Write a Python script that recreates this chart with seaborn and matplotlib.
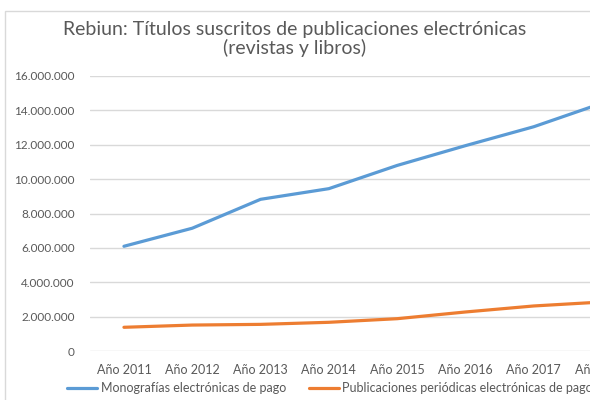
import numpy as np
import pandas as pd
import matplotlib.pyplot as plt
import seaborn as sns
from matplotlib.ticker import FuncFormatter
from matplotlib.patches import Rectangle

years = ["Año 2011", "Año 2012", "Año 2013", "Año 2014",
         "Año 2015", "Año 2016", "Año 2017", "Año 2018"]
monografias = [6100000, 7150000, 8830000, 9450000,
               10800000, 11950000, 13050000, 14420000]
periodicas = [1390000, 1520000, 1560000, 1680000,
              1890000, 2280000, 2630000, 2860000]
series_names = ["Monografías electrónicas de pago",
                "Publicaciones periódicas electrónicas de pago"]

df = pd.DataFrame({
    "year": years * 2,
    "value": monografias + periodicas,
    "serie": [series_names[0]] * len(years) + [series_names[1]] * len(years),
})

sns.set_style("white")
plt.rcParams["font.family"] = ["Lato", "DejaVu Sans"]

fig = plt.figure(figsize=(5.9, 4.0), dpi=100)
# chart area border (cut off at right and bottom like the original)
fig.patches.append(Rectangle((5 / 590, -0.1), 1.0, (400 - 11) / 400 + 0.1,
                             transform=fig.transFigure, fill=False,
                             edgecolor="#D9D9D9", lw=1))

ax = fig.add_axes([89.8 / 590, (400 - 351.2) / 400, 546.4 / 590, 275.2 / 400])
sns.lineplot(data=df, x="year", y="value", hue="serie", ax=ax,
             palette=["#5B9BD5", "#ED7D31"], linewidth=2.3, sort=False,
             legend=True)

ax.set_xlim(-0.5, 7.5)
ax.set_ylim(0, 16000000)
ax.set_yticks(np.arange(0, 16000001, 2000000))
ax.yaxis.set_major_formatter(FuncFormatter(lambda v, p: f"{int(v):,}".replace(",", ".")))
ax.grid(axis="y", color="#D9D9D9", lw=1)
ax.grid(axis="x", visible=False)
ax.set_axisbelow(True)
for s in ["top", "right", "left", "bottom"]:
    ax.spines[s].set_visible(False)
ax.tick_params(axis="both", length=0, labelsize=9, colors="#595959")
ax.tick_params(axis="y", labelsize=8.5, pad=11)
ax.tick_params(axis="x", pad=9)
ax.set_xlabel("")
ax.set_ylabel("")

handles, labels = ax.get_legend_handles_labels()
ax.get_legend().remove()
fig.legend(handles, labels, loc="center left", bbox_to_anchor=(56 / 590, 12 / 400),
           ncol=2, frameon=False, fontsize=9, labelcolor="#595959",
           handlelength=2.4, handletextpad=0.3, columnspacing=1.8)

fig.text(295 / 590, 1 - 30 / 400, "Rebiun: Títulos suscritos de publicaciones electrónicas",
         ha="center", va="center", fontsize=14, color="#595959")
fig.text(295 / 590, 1 - 48 / 400, "(revistas y libros)",
         ha="center", va="center", fontsize=14, color="#595959")

fig.savefig("out.png", dpi=100)
